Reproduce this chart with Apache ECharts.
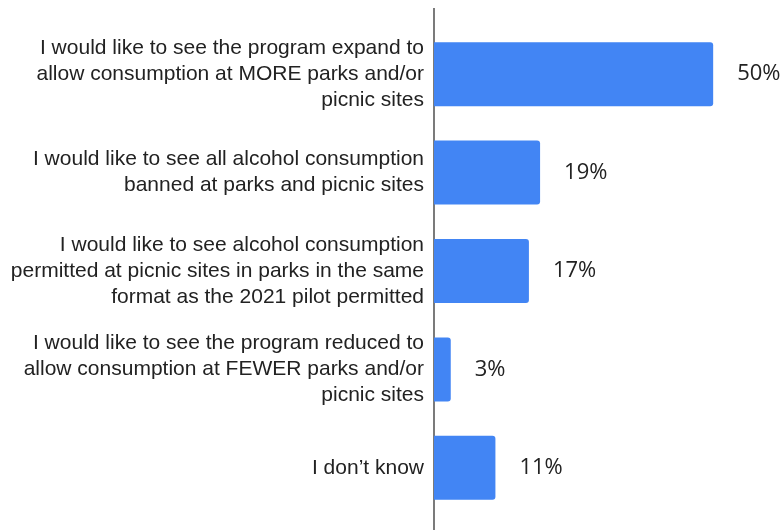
<!DOCTYPE html>
<html><head><meta charset="utf-8">
<script src="https://cdn.jsdelivr.net/npm/echarts@6/dist/echarts.min.js"></script>
<style>html,body{margin:0;padding:0;background:#fff}#c{width:784px;height:530px}</style>
</head><body><div id="c"></div>
<script>
const categories = [
  "I would like to see the program expand to\nallow consumption at MORE parks and/or\npicnic sites",
  "I would like to see all alcohol consumption\nbanned at parks and picnic sites",
  "I would like to see alcohol consumption\npermitted at picnic sites in parks in the same\nformat as the 2021 pilot permitted",
  "I would like to see the program reduced to\nallow consumption at FEWER parks and/or\npicnic sites",
  "I don\u2019t know"
];
const values = [50, 19, 17, 3, 11];

const chart = echarts.init(document.getElementById('c'));
chart.setOption({
  animation: false,
  grid: {left: 434, top: 25, width: 335, height: 492},
  xAxis: {type: 'value', min: 0, max: 60, show: false},
  yAxis: {
    type: 'category', data: categories, inverse: true,
    axisLine: {show: false}, axisTick: {show: false},
    axisLabel: {fontFamily: "'Liberation Sans', Arial, sans-serif", fontSize: 21, color: '#222', lineHeight: 26, margin: 10, align: 'right'}
  },
  graphic: [{type: 'line', shape: {x1: 434, y1: 8, x2: 434, y2: 530}, style: {stroke: '#222', lineWidth: 1.2}}],
  series: [{
    type: 'bar', data: values, barWidth: 64,
    itemStyle: {color: '#4285F4', borderRadius: [0, 3, 3, 0]},
    label: {show: true, position: 'right', distance: 24, formatter: '{c}%', fontFamily: "'Open Sans', sans-serif", fontSize: 22, color: '#222'}
  }]
});
</script></body></html>
